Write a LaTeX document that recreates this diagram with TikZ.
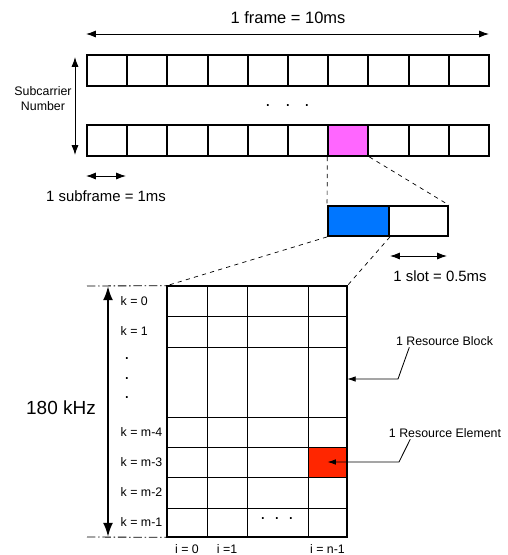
\documentclass[tikz,border=0pt]{standalone}
\usepackage{fontspec}
\setmainfont{Liberation Sans}
\usetikzlibrary{arrows.meta,positioning}

\definecolor{sfpink}{RGB}{255,102,255}
\definecolor{slotblue}{RGB}{0,118,255}
\definecolor{rered}{RGB}{255,38,0}

\tikzset{
	cell/.style={draw, line width=1.3pt, minimum width=1.005cm, minimum height=0.775cm, inner sep=0pt},
	slotbox/.style={draw, line width=1.3pt, minimum height=0.75cm, inner sep=0pt},
	dim/.style={{Latex[length=7pt,width=5pt]}-{Latex[length=7pt,width=5pt]}, line width=0.7pt},
	bigdim/.style={{Latex[length=10pt,width=7pt]}-{Latex[length=10pt,width=7pt]}, line width=1.6pt},
	zoomline/.style={dashed, line width=0.5pt},
	edgeline/.style={dash pattern=on 6pt off 2pt on 1pt off 2pt, line width=0.6pt},
	callout/.style={-{Latex[length=6pt,width=4pt]}, line width=0.6pt},
	gridline/.style={line width=0.6pt},
	midtxt/.style={font=\fontsize{10.6}{12.7}\selectfont, inner sep=1pt},
	bigtxt/.style={font=\fontsize{11.7}{14}\selectfont, inner sep=1pt},
	hugetxt/.style={font=\fontsize{13.5}{16}\selectfont, inner sep=1pt},
	smalltxt/.style={font=\fontsize{8.8}{10.6}\selectfont, inner sep=1pt},
	dotlbl/.style={font=\fontsize{13}{15}\selectfont, inner sep=0pt}
}

\begin{document}
\begin{tikzpicture}[x=0.025cm, y=-0.025cm]

		\useasboundingbox (0,0) rectangle (508,555);

		\foreach \i in {0,...,9}
			\node[cell] (t\i) at ({107.1+40.2*\i},70.5) {};

		\foreach \i in {0,...,5,7,8,9}
			\node[cell] (b\i) at ({107.1+40.2*\i},140.5) {};

		\node[cell, fill=sfpink] (b6) at ({107.1+40.2*6},140.5) {};

		\coordinate (fl) at (86,34);
		\coordinate (fr) at (489,34);
		\draw[dim] (fl) -- (fr);
		\node[bigtxt] (framelbl) at (288,18) {1 frame = 10ms};

		\coordinate (sct) at (75,57);
		\coordinate (scb) at (75,155);
		\draw[dim] (sct) -- (scb);
		\node[smalltxt, align=center] (sclbl) at (43,99) {Subcarrier\\Number};

		\foreach \x [count=\j] in {268,288,307}
			\node[dotlbl] (hd\j) at (\x,106) {.};

		\coordinate (sfl) at (86,176);
		\coordinate (sfr) at (126,176);
		\draw[dim] (sfl) -- (sfr);
		\node[midtxt] (sflbl) at (106,196) {1 subframe = 1ms};

		\node[slotbox, fill=slotblue, minimum width=1.525cm] (slota) at (358.5,221) {};
		\node[slotbox, minimum width=1.475cm] (slotb) at (418.5,221) {};

		\draw[zoomline] (b6.south west) -- (slota.north west)
		(b6.south east) -- (slotb.north east);

		\coordinate (sll) at (390,256);
		\coordinate (slr) at (447,256);
		\draw[dim] (sll) -- (slr);
		\node[midtxt] (sllbl) at (440,276) {1 slot = 0.5ms};

		\node[minimum width=4.5cm, minimum height=6.275cm, inner sep=0pt] (rb) at (257,411.5) {};
		\node[draw, gridline, fill=rered, minimum width=0.975cm, minimum height=0.75cm, inner sep=0pt] (re) at (327.5,462) {};

		\foreach \x in {207,247,308}
			\draw[gridline] (\x,286) -- (\x,537);
		\foreach \y in {316,347,417,447,477,508}
			\draw[gridline] (167,\y) -- (347,\y);

		\draw[line width=1.5pt] (rb.north west) rectangle (rb.south east);

		\draw[zoomline] (slota.south west) -- (rb.north west)
		(slota.south east) -- (rb.north east);

		\coordinate (et) at (87,286);
		\coordinate (eb) at (87,537);
		\draw[edgeline] (et) -- (rb.north west)
		(eb) -- (rb.south west);

		\coordinate (kt) at (108,286);
		\coordinate (kb) at (108,537);
		\draw[bigdim] (kt) -- (kb);
		\node[hugetxt] (bwlbl) at (61,408) {180 kHz};

		\foreach \y/\t [count=\j] in {301/0, 331/1, 432/m-4, 462/m-3, 492/m-2, 522/m-1}
			\node[smalltxt, anchor=west] (k\j) at (119,\y) {k = \t};

		\foreach \y [count=\j] in {359,379,398}
			\node[dotlbl] (vd\j) at (127,\y) {.};

		\foreach \x [count=\j] in {263,277,291}
			\node[dotlbl] (bd\j) at (\x,519) {.};

		\node[smalltxt] (i0) at (187,549) {i = 0};
		\node[smalltxt] (i1) at (227,549) {i =1};
		\node[smalltxt] (in) at (327.5,549) {i = n-1};

		\node[smalltxt] (rblbl) at (444.5,341) {1 Resource Block};
		\coordinate (rbk) at (398,379);
		\draw[callout] ([xshift=0.375cm]rblbl.south west) -- (rbk) -- (rbk -| rb.east);

		\node[smalltxt] (relbl) at (445,433) {1 Resource Element};
		\coordinate (rek) at (399,462);
		\draw[callout] ([xshift=0.575cm]relbl.south west) -- (rek) -- (re.center);

	\end{tikzpicture}
\end{document}
